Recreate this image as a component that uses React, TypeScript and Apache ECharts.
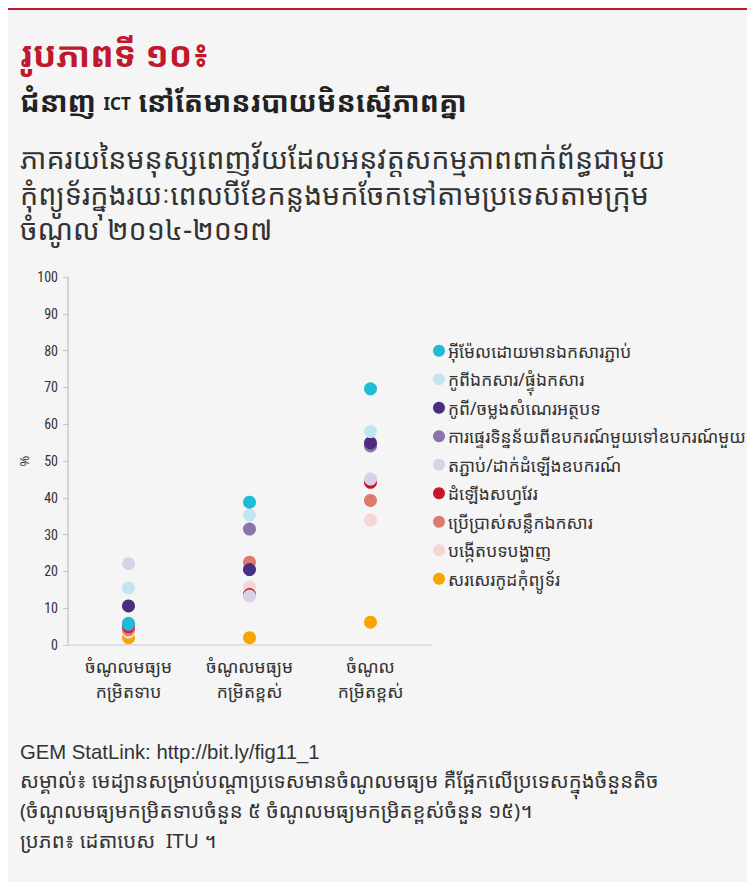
import React, { useEffect, useRef } from "react";
import * as echarts from "echarts";

const categories = ["ចំណូលមធ្យម\nកម្រិតទាប", "ចំណូលមធ្យម\nកម្រិតខ្ពស់", "ចំណូល\nកម្រិតខ្ពស់"];

const seriesNames = [
  "អ៊ីម៉ែលដោយមានឯកសារភ្ជាប់",
  "កូពីឯកសារ/ផ្ទុំឯកសារ",
  "កូពី/ចម្លងសំណេរអត្ថបទ",
  "ការផ្ទេរទិន្នន័យពីឧបករណ៍មួយទៅឧបករណ៍មួយ",
  "តភ្ជាប់/ដាក់ដំឡើងឧបករណ៍",
  "ដំឡើងសហ្វវែរ",
  "ប្រើប្រាស់សន្លឹកឯកសារ",
  "បង្កើតបទបង្ហាញ",
  "សរសេរកូដកុំព្យូទ័រ",
];

const seriesColors = [
  "#1fbcd6",
  "#c2e6f1",
  "#4b2e7f",
  "#8a74ab",
  "#d9d1e6",
  "#c4172c",
  "#dc7a6f",
  "#f4d7d1",
  "#f7a600",
];

// values per series: [lower-middle, upper-middle, high income]
const emailAttach = [5.9, 38.8, 69.6];
const copyFiles = [15.5, 35.3, 58.0];
const copyPaste = [10.6, 20.5, 54.9];
const transferFiles = [5.5, 31.5, 54.1];
const connectDevices = [22.1, 13.3, 45.1];
const installSoftware = [5.0, 13.7, 44.2];
const spreadsheets = [4.2, 22.5, 39.3];
const presentations = [3.5, 15.8, 33.9];
const programming = [2.0, 2.0, 6.2];

const seriesValues = [
  emailAttach,
  copyFiles,
  copyPaste,
  transferFiles,
  connectDevices,
  installSoftware,
  spreadsheets,
  presentations,
  programming,
];

// draw order: back to front so the picture's overlaps match
const drawOrder = [8, 7, 6, 5, 4, 3, 2, 1, 0];

const yTicks = [0, 10, 20, 30, 40, 50, 60, 70, 80, 90, 100];

const FONT = "'Noto Sans', 'Noto Sans Khmer', 'Khmer OS', sans-serif";

export default function App() {
  const ref = useRef<HTMLDivElement>(null);
  useEffect(() => {
    if (!ref.current) return;
    const chart = echarts.init(ref.current, undefined, { renderer: "svg" });
    const series = drawOrder.map((i) => ({
      name: seriesNames[i],
      type: "scatter" as const,
      symbol: "circle",
      symbolSize: 13,
      itemStyle: { color: seriesColors[i], opacity: 1 },
      z: 10 - i,
      data: seriesValues[i].map((v, c) => [c, v]),
    }));
    chart.setOption({
      animation: false,
      backgroundColor: "#f5f5f5",
      grid: { left: 68, top: 277, width: 363, height: 368 },
      xAxis: {
        type: "category",
        data: categories,
        boundaryGap: true,
        axisLine: { lineStyle: { color: "#d9d9d9", width: 1.5 } },
        axisTick: { show: false },
        axisLabel: {
          color: "#333",
          fontSize: 17.5,
          fontFamily: FONT,
          lineHeight: 25,
          margin: 8,
        },
      },
      yAxis: {
        type: "value",
        min: 0,
        max: 100,
        interval: 10,
        name: "%",
        nameLocation: "middle",
        nameGap: 38,
        nameRotate: 90,
        nameTextStyle: { color: "#333", fontSize: 13, fontFamily: FONT },
        axisLine: { show: true, lineStyle: { color: "#c8c8c8", width: 1.5 } },
        axisTick: { show: true, length: 5, inside: false, lineStyle: { color: "#c8c8c8" } },
        splitLine: { show: false },
        axisLabel: {
          color: "#333",
          fontSize: 14,
          fontFamily: "'Roboto Condensed', 'Liberation Sans Narrow', 'DejaVu Sans Condensed', sans-serif",
          margin: 10,
          formatter: (v: number) => (yTicks.includes(v) ? String(v) : ""),
        },
      },
      legend: {
        data: seriesNames,
        orient: "vertical",
        left: 428,
        top: 337,
        icon: "circle",
        itemWidth: 12,
        itemHeight: 12,
        itemGap: 11,
        selectedMode: false,
        textStyle: { color: "#333", fontSize: 17.4, fontFamily: FONT, lineHeight: 17.5, padding: [0, 0, 0, -2] },
      },
      graphic: [
        { type: "rect", shape: { x: 0, y: 0, width: 755, height: 10 }, style: { fill: "#c0182c" } },
        { type: "rect", shape: { x: 0, y: 883, width: 755, height: 7 }, style: { fill: "#c0182c" } },
        {
          type: "text",
          left: 20,
          top: 36,
          style: { text: "រូបភាពទី ១០៖", fill: "#c0182c", font: `bold 35px ${FONT}` },
        },
        {
          type: "text",
          left: 20,
          top: 86,
          style: {
            text: "{k|ជំនាញ }{e|ICT}{k| នៅតែមានរបាយមិនស្មើភាពគ្នា}",
            rich: {
              k: { fill: "#222", fontSize: 28.5, fontWeight: "bold", fontFamily: FONT, lineHeight: 40 },
              e: { fill: "#222", fontSize: 17, fontWeight: "bold", fontFamily: FONT, lineHeight: 40, padding: [6, 0, 0, 0] },
            },
          },
        },
        {
          type: "text",
          left: 20,
          top: 140,
          style: {
            text: "ភាគរយនៃមនុស្សពេញវ័យដែលអនុវត្តសកម្មភាពពាក់ព័ន្ធជាមួយ\nកុំព្យូទ័រក្នុងរយៈពេលបីខែកន្លងមកចែកទៅតាមប្រទេសតាមក្រុម\nចំណូល ២០១៤-២០១៧",
            fill: "#333",
            font: `28.6px ${FONT}`,
            lineHeight: 35.5,
          },
        },
        {
          type: "text",
          left: 20,
          top: 742,
          style: {
            text: "GEM StatLink: http://bit.ly/fig11_1",
            fill: "#333",
            font: "20.3px 'Liberation Sans', Arial, sans-serif",
          },
        },
        {
          type: "text",
          left: 20,
          top: 765,
          style: {
            text: "សម្គាល់៖ មេដ្យានសម្រាប់បណ្ដាប្រទេសមានចំណូលមធ្យម គឺផ្អែកលើប្រទេសក្នុងចំនួនតិច\n(ចំណូលមធ្យមកម្រិតទាបចំនួន ៥ ចំណូលមធ្យមកម្រិតខ្ពស់ចំនួន ១៥)។\nប្រភព៖ ដេតាបេស  ITU ។",
            fill: "#333",
            font: `20.4px ${FONT}`,
            lineHeight: 30,
          },
        },
      ],
      series,
    });
    return () => chart.dispose();
  }, []);
  return <div ref={ref} style={{ width: 755, height: 890, margin: -8 }} />;
}
